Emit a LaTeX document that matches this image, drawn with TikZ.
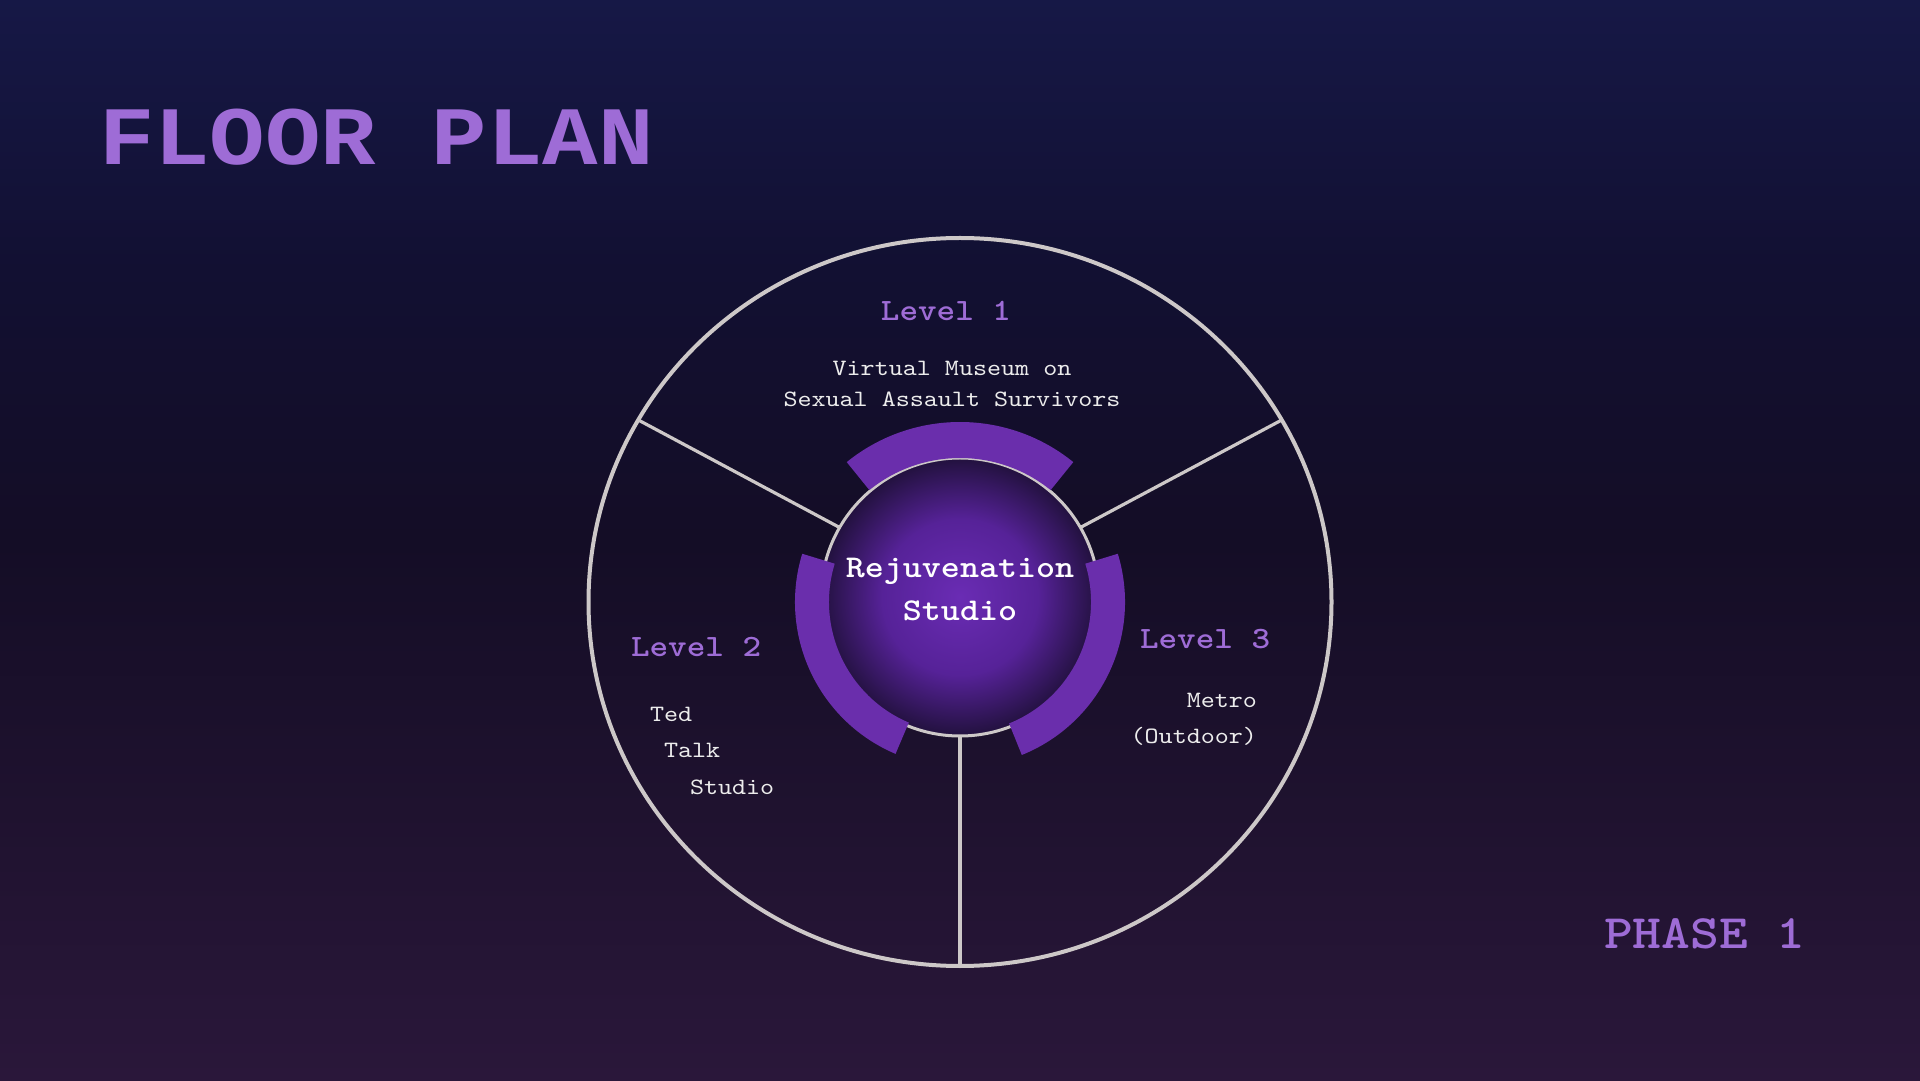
\documentclass[tikz,border=0pt]{standalone}
\usepackage{fontspec}
\usetikzlibrary{calc}

% typewriter face, widened to a Courier-like pitch
\newfontfamily\mono{lmmono10-regular.otf}[FakeStretch=1.143,BoldFont=lmmonolt10-bold.otf]
\newfontfamily\titlefont{Liberation Mono}[FakeStretch=1.114]

\definecolor{bgtop}{RGB}{22,24,70}
\definecolor{bgupper}{RGB}{18,16,50}
\definecolor{bgmid}{RGB}{20,13,38}
\definecolor{bglow}{RGB}{31,18,47}
\definecolor{bgbot}{RGB}{42,23,58}
\definecolor{lav}{RGB}{158,108,214}
\definecolor{band}{RGB}{106,46,172}
\definecolor{wallgrey}{RGB}{205,200,200}
\definecolor{paper}{RGB}{236,236,236}
\definecolor{diskc}{RGB}{106,44,180}
\definecolor{diskm}{RGB}{86,34,152}
\definecolor{diske}{RGB}{34,17,62}

% the shaded path covers the middle 25bp--75bp of a shading
\pgfdeclareverticalshading{bgshade}{100bp}{color(0bp)=(bgbot); color(25bp)=(bgbot); color(37.5bp)=(bglow); color(50bp)=(bgmid); color(62.5bp)=(bgupper); color(75bp)=(bgtop); color(100bp)=(bgtop)}
\pgfdeclareradialshading{diskshade}{\pgfpoint{0bp}{0bp}}{color(0bp)=(diskc); color(14bp)=(diskm); color(25bp)=(diske); color(50bp)=(diske)}

\begin{document}
\begin{tikzpicture}[x=1pt,y=1pt,
  every node/.style={inner sep=0pt,outer sep=0pt},
  wall/.style={draw=wallgrey,line width=4pt},
  spoke/.style={draw=wallgrey,line width=3.2pt},
  ring/.style={draw=wallgrey,line width=3pt},
  bandfill/.style={fill=band},
  heading/.style={font=\titlefont\bfseries\fontsize{83}{98}\selectfont,text=lav},
  lvl/.style={font=\mono\bfseries\fontsize{31}{36}\selectfont,text=lav},
  desc/.style={font=\mono\fontsize{23.4}{28}\selectfont,text=paper},
  hubtxt/.style={font=\mono\bfseries\fontsize{31.7}{38}\selectfont,text=white},
  phase/.style={font=\mono\bfseries\fontsize{48}{56}\selectfont,text=lav}]

\useasboundingbox (0,0) rectangle (1920,1080);
\shade[shading=bgshade] (0,0) rectangle (1920,1080);

% plan centre and centre of the studio ring
\coordinate (c) at (960,478);
\coordinate (hub) at (960,483);

% outer wall
\draw[wall] (c) ellipse [x radius=371.5, y radius=364];

% wall ends of the three partitions
\coordinate (o1) at ($(c)+(150:371.5 and 364)$);
\coordinate (o2) at ($(c)+(30:371.5 and 364)$);
\coordinate (o3) at ($(c)+(270:371.5 and 364)$);
\coordinate (i1) at ($(hub)+(150:139)$);
\coordinate (i2) at ($(hub)+(30:139)$);
\coordinate (i3) at ($(hub)+(270:139)$);
\draw[spoke] (i1) -- (o1);
\draw[spoke] (i2) -- (o2);
\draw[spoke] (i3) -- (o3);

% studio disk and its ring
\shade[shading=diskshade] (hub) circle[radius=139];
\draw[ring] (hub) circle[radius=139];

% purple bands around the studio
\fill[bandfill] ([shift={(51:180)}]c) arc[start angle=51,end angle=129,radius=180]
  -- ([shift={(129:144)}]c) arc[start angle=129,end angle=51,radius=144] -- cycle;
\fill[bandfill] ([shift={(163:165)}]c) arc[start angle=163,end angle=247,radius=165]
  -- ([shift={(247:131)}]c) arc[start angle=247,end angle=163,radius=131] -- cycle;
\fill[bandfill] ([shift={(-68:165)}]c) arc[start angle=-68,end angle=17,radius=165]
  -- ([shift={(17:131)}]c) arc[start angle=17,end angle=-68,radius=131] -- cycle;

% labels
\node[heading,anchor=base west] (title) at (99,915) {FLOOR PLAN};

\node[lvl,anchor=base] (lv1) at (946,759) {Level 1};
\node[desc,anchor=base] (d1a) at (952,704) {Virtual Museum on};
\node[desc,anchor=base] (d1b) at (952,673) {Sexual Assault Survivors};

\node[hubtxt,anchor=base] (r1) at (960,502) {Rejuvenation};
\node[hubtxt,anchor=base] (r2) at (960,459) {Studio};

\node[lvl,anchor=base west] (lv2) at (631,423) {Level 2};
\node[desc,anchor=base west] (d2a) at (650,358) {Ted};
\node[desc,anchor=base west] (d2b) at (664,322) {Talk};
\node[desc,anchor=base west] (d2c) at (690,285) {Studio};

\node[lvl,anchor=base west] (lv3) at (1140,431) {Level 3};
\node[desc,anchor=base east] (d3a) at (1257,372) {Metro};
\node[desc,anchor=base east] (d3b) at (1257,336) {(Outdoor)};

\node[phase,anchor=base west] (ph) at (1604,132) {PHASE 1};
\end{tikzpicture}
\end{document}
